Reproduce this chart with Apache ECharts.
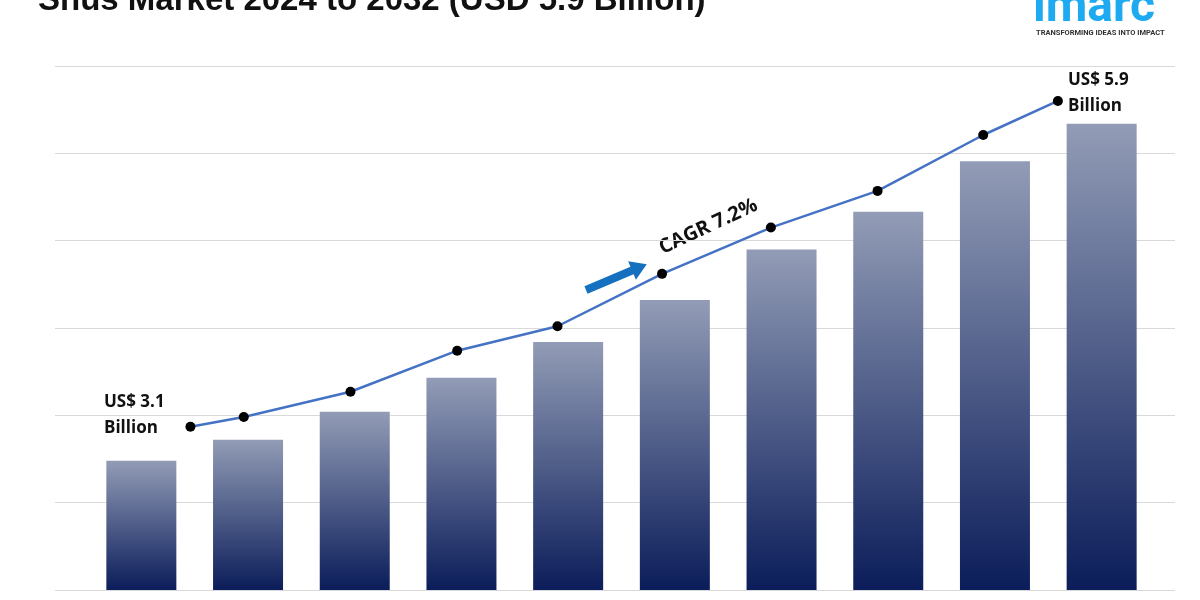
<!DOCTYPE html>
<html><head><meta charset="utf-8">
<script src="https://cdn.jsdelivr.net/npm/echarts@6/dist/echarts.min.js"></script>
<style>html,body{margin:0;background:#fff}#chart{width:1200px;height:600px}</style>
</head><body><div id="chart"></div>
<script>
var years = ['2023','2024','2025','2026','2027','2028','2029','2030','2031','2032'];
var barValues = [1.48, 1.72, 2.04, 2.43, 2.84, 3.32, 3.90, 4.33, 4.91, 5.34];
var lineX = [0.96, 1.46, 2.46, 3.46, 4.40, 5.38, 6.40, 7.40, 8.39, 9.09];
var lineValues = [1.87, 1.98, 2.27, 2.74, 3.02, 3.62, 4.15, 4.57, 5.21, 5.60];

var myChart = echarts.init(document.getElementById('chart'));
var lbl = {fontFamily: 'Open Sans', fontWeight: 'bold', fontSize: 17, fill: '#111', lineHeight: 26};
var option = {
	animation: false,
	grid: [
		{left: 55, right: 25, top: 66, bottom: 10},
		{left: 88, right: 45, top: 66, bottom: 10}
	],
	xAxis: [
		{gridIndex: 0, type: 'value', min: 0, max: 1, show: false},
		{gridIndex: 1, type: 'category', data: years, show: false},
		{gridIndex: 1, type: 'value', min: 0, max: 10, show: false}
	],
	yAxis: [
		{gridIndex: 0, type: 'value', min: 0, max: 6, interval: 1,
			axisLabel: {show: false}, axisLine: {show: false}, axisTick: {show: false},
			splitLine: {lineStyle: {color: '#d9d9d9'}}},
		{gridIndex: 1, type: 'value', min: 0, max: 6, interval: 1, show: false, splitLine: {show: false}}
	],
	series: [{
		type: 'bar', xAxisIndex: 1, yAxisIndex: 1, data: barValues, barWidth: 70,
		itemStyle: {color: new echarts.graphic.LinearGradient(0, 0, 0, 1, [
			{offset: 0, color: '#929cb6'}, {offset: 1, color: '#0b1d5a'}])}
	}, {
		type: 'line', xAxisIndex: 2, yAxisIndex: 1,
		data: lineX.map(function(x, i) { return [x, lineValues[i]]; }),
		symbol: 'circle', symbolSize: 10,
		lineStyle: {color: '#4472c4', width: 2.5},
		itemStyle: {color: '#000'}
	}],
	graphic: [
		{type: 'text', left: 38, top: -16, style: {text: 'Snus Market 2024 to 2032 (USD 5.9 Billion)',
			fontFamily: 'Liberation Sans', fontWeight: 'bold', fontSize: 33, fill: '#111'}},
		{type: 'text', left: 1033, top: -15, style: {text: 'imarc', fontFamily: 'Roboto', fontWeight: 'bold', fontSize: 48, fill: '#1eaaf1'}},
		{type: 'text', left: 1036, top: 29, style: {text: 'TRANSFORMING IDEAS INTO IMPACT', fontFamily: 'Roboto', fontWeight: 'bold', fontSize: 7.5, fill: '#333'}},
		{type: 'text', left: 104, top: 389, style: Object.assign({text: 'US$ 3.1\nBillion'}, lbl)},
		{type: 'text', left: 1068, top: 67, style: Object.assign({text: 'US$ 5.9\nBillion'}, lbl)},
		{type: 'text', x: 656, y: 240, rotation: 25 * Math.PI / 180,
			style: {text: 'CAGR 7.2%', fontFamily: 'Open Sans', fontWeight: 'bold', fontSize: 20, fill: '#111'}},
		{type: 'polygon', x: 586, y: 290, rotation: 23 * Math.PI / 180, shape: {points: [
			[0, -4], [50, -4], [50, -10], [66, 0], [50, 10], [50, 4], [0, 4]]},
			style: {fill: '#1570c0'}}
	]
};
myChart.setOption(option);
window.addEventListener('resize', function() { myChart.resize(); });
</script></body></html>
